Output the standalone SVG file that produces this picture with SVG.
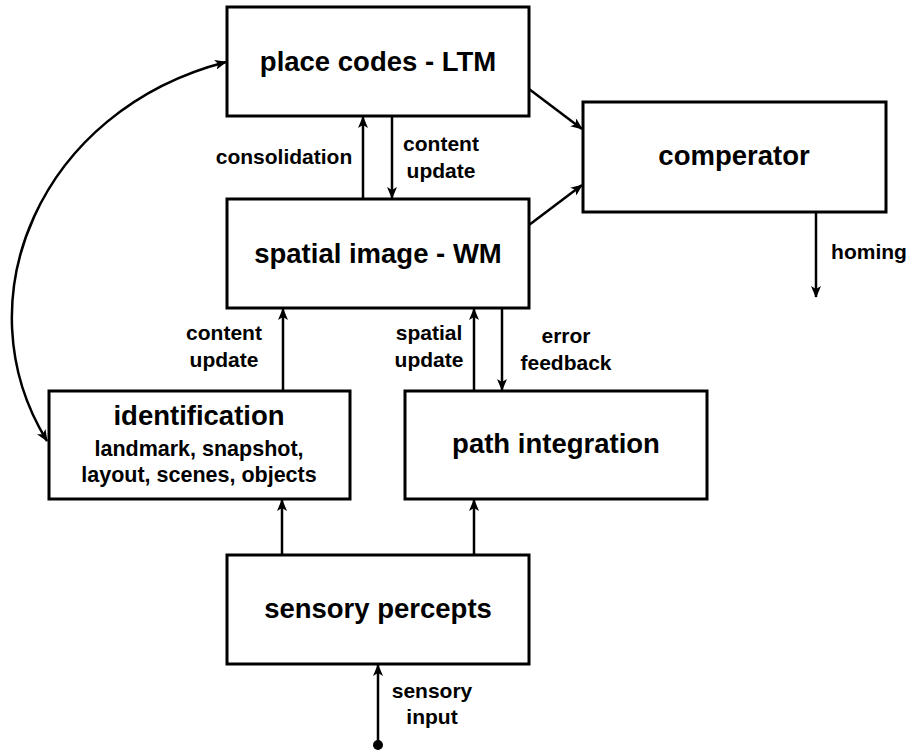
<svg xmlns="http://www.w3.org/2000/svg" width="911" height="753" viewBox="0 0 911 753">
<style>
.box{fill:#fff;stroke:#000;stroke-width:3}
.t{font-family:"Liberation Sans",Arial,sans-serif;font-weight:bold;fill:#000;text-anchor:middle}
.big{font-size:27.5px}
.sub{font-size:21.5px}
.lbl{font-size:21px}
.c{fill:none;stroke:#000;stroke-width:2.5}
</style>
<defs>
<marker id="ah" viewBox="0 0 12 10" refX="11" refY="5" markerWidth="12" markerHeight="10" markerUnits="userSpaceOnUse" orient="auto-start-reverse">
<path d="M0,0 L12,5 L0,10 L3,5 Z" fill="#000"/>
</marker>
</defs>
<g id="connectors">
<path class="c" d="M363,199 V117" marker-end="url(#ah)"/>
<path class="c" d="M392,116 V198" marker-end="url(#ah)"/>
<path class="c" d="M529,89 L582,129" marker-end="url(#ah)"/>
<path class="c" d="M529,225 L582,185" marker-end="url(#ah)"/>
<path class="c" d="M816,212 V297" marker-end="url(#ah)"/>
<path class="c" d="M283,391 V309" marker-end="url(#ah)"/>
<path class="c" d="M474,391 V309" marker-end="url(#ah)"/>
<path class="c" d="M502,308 V390" marker-end="url(#ah)"/>
<path class="c" d="M282,555 V500" marker-end="url(#ah)"/>
<path class="c" d="M474,555 V500" marker-end="url(#ah)"/>
<path class="c" d="M378,745 V665" marker-end="url(#ah)"/>
<circle cx="378" cy="745" r="5" fill="#000"/>
<path class="c" d="M226,62 C40,110 -40,300 47,441" marker-start="url(#ah)" marker-end="url(#ah)"/>
</g>
<g id="ltm"><rect class="box" x="227" y="7" width="302" height="109"/><text class="t big" x="378" y="71">place codes - LTM</text></g>
<g id="wm"><rect class="box" x="227" y="199" width="302" height="109"/><text class="t big" x="378" y="263">spatial image - WM</text></g>
<g id="comperator"><rect class="box" x="583" y="102" width="303" height="110"/><text class="t big" x="734" y="165">comperator</text></g>
<g id="identification"><rect class="box" x="49" y="391" width="301" height="108"/>
<text class="t big" x="199" y="425">identification</text>
<text class="t sub" x="199" y="456">landmark, snapshot,</text>
<text class="t sub" x="199" y="482">layout, scenes, objects</text></g>
<g id="path"><rect class="box" x="405" y="391" width="302" height="108"/><text class="t big" x="556" y="453">path integration</text></g>
<g id="sensory"><rect class="box" x="227" y="555" width="302" height="109"/><text class="t big" x="378" y="618">sensory percepts</text></g>
<g id="labels">
<text class="t lbl" x="284" y="164">consolidation</text>
<text class="t lbl" x="441" y="151">content</text><text class="t lbl" x="441" y="178">update</text>
<text class="t lbl" x="869" y="259">homing</text>
<text class="t lbl" x="224" y="340">content</text><text class="t lbl" x="224" y="367">update</text>
<text class="t lbl" x="429" y="340">spatial</text><text class="t lbl" x="429" y="367">update</text>
<text class="t lbl" x="566" y="343">error</text><text class="t lbl" x="566" y="370">feedback</text>
<text class="t lbl" x="432" y="698">sensory</text><text class="t lbl" x="432" y="724">input</text>
</g>
</svg>
